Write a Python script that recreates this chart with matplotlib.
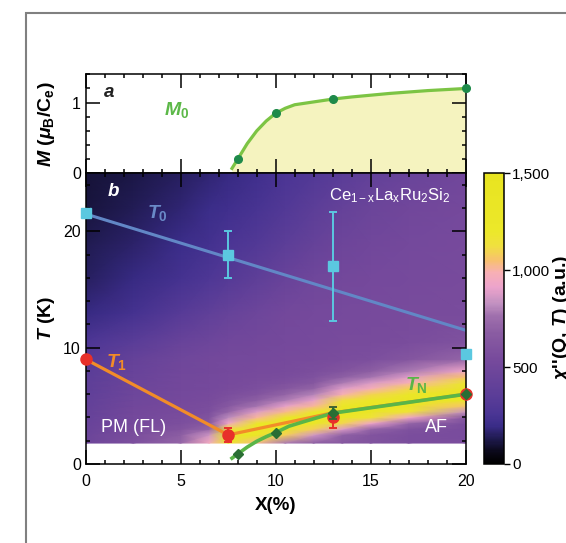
import numpy as np
import matplotlib.pyplot as plt
from matplotlib.colors import LinearSegmentedColormap
from matplotlib.patches import Rectangle
from matplotlib.ticker import MultipleLocator, FuncFormatter

plt.rcParams['font.family'] = ['Liberation Sans', 'DejaVu Sans']
plt.rcParams['mathtext.fontset'] = 'custom'
plt.rcParams['mathtext.it'] = 'Liberation Sans:italic:bold'
plt.rcParams['mathtext.rm'] = 'Liberation Sans:bold'
plt.rcParams['mathtext.bf'] = 'Liberation Sans:bold'
plt.rcParams['mathtext.sf'] = 'Liberation Sans'

# panel a: ordered moment M0
m0_x = [8, 10, 13, 20]
m0_val = [0.20, 0.85, 1.05, 1.20]
m0_curve_x = [7.7, 8.0, 8.5, 9.0, 9.5, 10.0, 10.5, 11.0, 12.0, 13.0, 14.0, 16.0, 18.0, 20.0]
m0_curve = [0.07, 0.20, 0.42, 0.60, 0.74, 0.85, 0.92, 0.97, 1.01, 1.05, 1.08, 1.13, 1.17, 1.20]

# panel b: characteristic temperatures
t0_x = [0, 7.5, 13, 20]
t0_val = [21.6, 18.0, 17.0, 9.5]
t0_err = [0, 2.0, 4.7, 0]
t0_fit_x = [0, 20]
t0_fit = [21.5, 11.5]

t1_x = [0, 7.5, 13, 20]
t1_val = [9.0, 2.5, 4.0, 6.0]
t1_err = [0, 0.6, 0.9, 0]
t1_line = [9.0, 2.5, 4.4, 6.0]

tn_x = [8, 10, 13, 20]
tn_val = [0.86, 2.7, 4.37, 6.0]
tn_err = [0, 0, 0.5, 0]
tn_curve_x = [7.7, 8.0, 8.5, 9.0, 9.5, 10.0, 10.7, 11.5, 13.0, 20.0]
tn_curve = [0.5, 0.86, 1.45, 1.95, 2.35, 2.7, 3.25, 3.65, 4.37, 6.0]

# chi''(Q,T) intensity map (a.u.), rows = temperature, cols = La content
x_grid = [0, 2.5, 5, 6.5, 7.5, 9, 10.5, 12, 13.5, 15, 17, 20]
t_grid = [1.8, 2.5, 3.0, 3.5, 4.0, 4.5, 5.0, 5.5, 6.0, 6.5, 7.0, 7.5, 8.0, 9.0, 10.5, 13, 16, 19, 22, 25]
chi = [
    [470, 580, 720, 950, 1290, 1030, 780, 680, 640, 610, 570, 560],
    [460, 570, 680, 850, 1330, 1300, 1080, 860, 700, 620, 570, 555],
    [450, 550, 620, 720, 1120, 1370, 1260, 1080, 880, 720, 600, 555],
    [440, 530, 580, 650, 930, 1220, 1380, 1270, 1100, 920, 720, 570],
    [430, 520, 560, 610, 820, 1010, 1240, 1380, 1300, 1150, 930, 650],
    [420, 510, 550, 580, 720, 880, 1020, 1230, 1380, 1330, 1150, 840],
    [410, 500, 540, 560, 650, 770, 900, 1010, 1280, 1370, 1330, 1060],
    [400, 490, 530, 550, 600, 690, 790, 900, 1120, 1250, 1370, 1280],
    [390, 480, 520, 540, 570, 620, 710, 800, 980, 1090, 1250, 1390],
    [380, 470, 515, 530, 550, 580, 640, 710, 880, 970, 1100, 1330],
    [370, 460, 510, 525, 540, 560, 590, 640, 780, 870, 980, 1180],
    [360, 450, 505, 520, 535, 545, 565, 600, 690, 770, 880, 1050],
    [350, 440, 500, 515, 530, 540, 550, 570, 620, 680, 780, 920],
    [320, 420, 490, 510, 520, 530, 540, 545, 560, 580, 630, 720],
    [270, 350, 440, 480, 500, 515, 525, 535, 545, 550, 560, 600],
    [190, 240, 330, 390, 430, 480, 510, 525, 535, 540, 545, 555],
    [150, 190, 240, 280, 320, 380, 440, 490, 510, 525, 535, 545],
    [130, 160, 200, 230, 260, 300, 360, 420, 470, 500, 520, 540],
    [110, 140, 170, 200, 220, 250, 300, 360, 420, 460, 500, 530],
    [100, 120, 150, 170, 190, 220, 260, 300, 350, 400, 450, 500],
]

cmap_stops = [
    (0.00, '#000000'), (0.04, '#0a0818'), (0.08, '#1c1848'), (0.13, '#3a2c88'),
    (0.17, '#4a3594'), (0.24, '#5c3e98'), (0.36, '#774a9c'), (0.45, '#8a5ca2'),
    (0.51, '#a070ad'), (0.55, '#c090c0'), (0.61, '#eda4cc'), (0.66, '#f8b0b4'),
    (0.70, '#f8c070'), (0.75, '#f0e040'), (0.80, '#ece82a'), (1.00, '#e8e420'),
]
cmap = LinearSegmentedColormap.from_list('chi', cmap_stops)

fig = plt.figure(figsize=(5.66, 5.43), dpi=100)
fig.patches.append(Rectangle((0.046, -0.1), 1.0, 1.076, transform=fig.transFigure,
                             fill=False, edgecolor='#808080', lw=1.5))

ax_a = fig.add_axes([0.1514, 0.6808, 0.6714, 0.1823])
ax_b = fig.add_axes([0.1514, 0.1455, 0.6714, 0.5354])
cax = fig.add_axes([0.8551, 0.1455, 0.0353, 0.5354])

for ax in (ax_a, ax_b):
    ax.set_xlim(0, 20)
    ax.xaxis.set_major_locator(MultipleLocator(5))
    ax.xaxis.set_minor_locator(MultipleLocator(1))
    ax.tick_params(which='both', direction='in', top=True, right=True, width=1.1,
                   labelsize=11.5, colors='black')
    ax.tick_params(which='major', length=10)
    ax.tick_params(which='minor', length=3)
    ax.tick_params(axis='x', pad=7)
    for s in ax.spines.values():
        s.set_linewidth(1.1)

# panel a
ax_a.set_ylim(0, 1.4)
ax_a.yaxis.set_major_locator(MultipleLocator(1))
ax_a.yaxis.set_minor_locator(MultipleLocator(0.2))
ax_a.tick_params(axis='x', labelbottom=False)
ax_a.fill_between(m0_curve_x, m0_curve, 0, color='#f5f3bf', lw=0)
ax_a.plot(m0_curve_x, m0_curve, color='#7cc444', lw=2.3, zorder=3)
ax_a.plot(m0_x, m0_val, 'o', color='#1e8a4a', ms=5.5, zorder=4, clip_on=False)
ax_a.set_ylabel(r'$M$ ($\mu_{\rm B}$/C$_{\rm e}$)', fontsize=14, fontweight='bold')
ax_a.yaxis.set_label_coords(-0.075, 0.5)
ax_a.text(0.046, 0.82, r'$a$', transform=ax_a.transAxes, fontsize=13.5, color='#222222',
          va='center')
ax_a.text(0.24, 0.64, r'$M_{\rm 0}$', transform=ax_a.transAxes, fontsize=14,
          color='#5cb848', ha='center', va='center')

# panel b
X, Tm = np.meshgrid(x_grid, t_grid)
ax_b.pcolormesh(X, Tm, np.array(chi), cmap=cmap, vmin=0, vmax=1500, shading='gouraud',
                zorder=0)
ax_b.set_ylim(0, 25)
ax_b.yaxis.set_major_locator(MultipleLocator(10))
ax_b.yaxis.set_minor_locator(MultipleLocator(2))

ax_b.plot(t0_fit_x, t0_fit, color='#6287c6', lw=2.2, zorder=2)
ax_b.plot(t1_x, t1_line, color='#f28c28', lw=2.3, zorder=2)
ax_b.plot(tn_curve_x, tn_curve, color='#5ab548', lw=2.6, zorder=3)
ax_b.errorbar(t0_x, t0_val, yerr=t0_err, fmt='s', color='#5bc8e0', ms=7.5, capsize=3,
              elinewidth=1.4, capthick=1.4, zorder=5, clip_on=False)
ax_b.errorbar(t1_x, t1_val, yerr=t1_err, fmt='o', color='#e8302a', ms=8, capsize=3,
              elinewidth=1.4, capthick=1.4, zorder=4, clip_on=False)
ax_b.errorbar(tn_x, tn_val, yerr=tn_err, fmt='D', color='#2a6e34', ms=5.5, capsize=3,
              elinewidth=1.2, capthick=1.2, zorder=6, clip_on=False)

ax_b.set_ylabel(r'$T$ (K)', fontsize=14, fontweight='bold')
ax_b.yaxis.set_label_coords(-0.075, 0.5)
ax_b.set_xlabel('X(%)', fontsize=13.5, fontweight='bold')
ax_b.xaxis.set_label_coords(0.5, -0.115)

ax_b.text(0.055, 0.937, r'$b$', transform=ax_b.transAxes, fontsize=13.5, color='white',
          va='center')
ax_b.text(0.19, 0.863, r'$T_{\rm 0}$', transform=ax_b.transAxes, fontsize=14,
          color='#6a8ac8', ha='center', va='center')
ax_b.text(0.08, 0.351, r'$T_{\rm 1}$', transform=ax_b.transAxes, fontsize=14,
          color='#f28c28', ha='center', va='center')
ax_b.text(0.87, 0.272, r'$T_{\rm N}$', transform=ax_b.transAxes, fontsize=14,
          color='#5ab548', ha='center', va='center')
ax_b.text(0.80, 0.922, r'Ce$_{\mathsf{1-x}}$La$_{\mathsf{x}}$Ru$_{\mathsf{2}}$Si$_{\mathsf{2}}$',
          transform=ax_b.transAxes, fontsize=12, color='white', ha='center', va='center')
ax_b.text(0.125, 0.124, 'PM (FL)', transform=ax_b.transAxes, fontsize=13, color='white',
          ha='center', va='center')
ax_b.text(0.924, 0.124, 'AF', transform=ax_b.transAxes, fontsize=13, color='white',
          ha='center', va='center')

# colorbar
sm = plt.cm.ScalarMappable(cmap=cmap, norm=plt.Normalize(0, 1500))
cb = fig.colorbar(sm, cax=cax, ticks=[0, 500, 1000, 1500])
cb.ax.yaxis.set_major_formatter(FuncFormatter(lambda v, p: f'{int(v):,}'))
cb.ax.tick_params(labelsize=11, length=4, width=1, pad=2)
cb.outline.set_linewidth(1.1)
fig.text(561 / 566, 0.414, r"$\chi$''($\mathbf{Q}$, $T$) (a.u.)", rotation=90,
         fontsize=14, fontweight='bold', ha='center', va='center')

fig.savefig('out.png', dpi=100)
